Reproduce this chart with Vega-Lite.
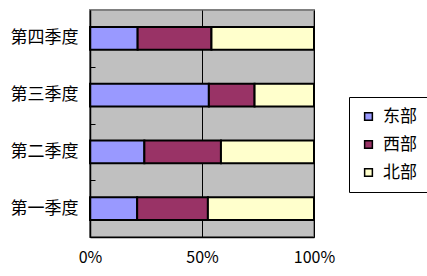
{
  "$schema": "https://vega.github.io/schema/vega-lite/v6.json",
  "width": 224,
  "height": 227,
  "autosize": {"type": "none"},
  "padding": {"left": 90, "top": 10, "right": 113, "bottom": 39},
  "background": "white",
  "config": {
    "view": {"fill": "#C0C0C0", "stroke": "#808080", "strokeWidth": 2},
    "font": "Noto Sans CJK SC"
  },
  "data": {
    "values": [
      {"quarter": "第一季度", "region": "东部", "order": 1, "value": 20.4},
      {"quarter": "第一季度", "region": "西部", "order": 2, "value": 30.6},
      {"quarter": "第一季度", "region": "北部", "order": 3, "value": 45.9},
      {"quarter": "第二季度", "region": "东部", "order": 1, "value": 27.4},
      {"quarter": "第二季度", "region": "西部", "order": 2, "value": 38.6},
      {"quarter": "第二季度", "region": "北部", "order": 3, "value": 46.9},
      {"quarter": "第三季度", "region": "东部", "order": 1, "value": 90},
      {"quarter": "第三季度", "region": "西部", "order": 2, "value": 34.6},
      {"quarter": "第三季度", "region": "北部", "order": 3, "value": 45},
      {"quarter": "第四季度", "region": "东部", "order": 1, "value": 20.4},
      {"quarter": "第四季度", "region": "西部", "order": 2, "value": 31.6},
      {"quarter": "第四季度", "region": "北部", "order": 3, "value": 43.9}
    ]
  },
  "encoding": {
    "y": {
      "field": "quarter",
      "type": "nominal",
      "sort": ["第四季度", "第三季度", "第二季度", "第一季度"],
      "scale": {"paddingInner": 0.6, "paddingOuter": 0.3}
    },
    "x": {
      "field": "value",
      "type": "quantitative",
      "stack": "normalize",
      "scale": {"domain": [0, 1]}
    },
    "color": {
      "field": "region",
      "type": "nominal",
      "sort": ["东部", "西部", "北部"],
      "scale": {"domain": ["东部", "西部", "北部"], "range": ["#9999FF", "#993366", "#FFFFCC"]},
      "legend": {
        "title": null,
        "orient": "none",
        "legendX": 259,
        "legendY": 87,
        "symbolType": "square",
        "symbolSize": 60,
        "symbolStrokeColor": "black",
        "symbolStrokeWidth": 1.5,
        "labelFontSize": 17,
        "labelColor": "black",
        "labelOffset": 6,
        "rowPadding": 10,
        "padding": 11,
        "strokeColor": "black",
        "fillColor": "white"
      }
    },
    "order": {"field": "order", "type": "quantitative"}
  },
  "layer": [
    {
      "mark": {"type": "bar", "stroke": "black", "strokeWidth": 2},
      "encoding": {
        "y": {
          "field": "quarter",
          "type": "nominal",
          "sort": ["第四季度", "第三季度", "第二季度", "第一季度"],
          "axis": {
            "title": null,
            "orient": "left",
            "zindex": 1,
            "labelFontSize": 17,
            "labelColor": "black",
            "labelPadding": 12,
            "ticks": false,
            "domain": true,
            "domainColor": "black",
            "domainWidth": 1.5
          }
        },
        "x": {
          "field": "value",
          "type": "quantitative",
          "stack": "normalize",
          "axis": {
            "title": null,
            "orient": "bottom",
            "zindex": 0,
            "grid": true,
            "gridColor": "black",
            "gridWidth": 1,
            "values": [0, 0.5, 1],
            "labels": false,
            "ticks": false,
            "domain": false
          }
        }
      }
    },
    {
      "mark": {"type": "bar", "opacity": 0},
      "encoding": {
        "y": {
          "field": "quarter",
          "type": "nominal",
          "sort": ["第四季度", "第三季度", "第二季度", "第一季度"],
          "axis": {
            "title": null,
            "orient": "right",
            "offset": -224,
            "zindex": 1,
            "labels": false,
            "domain": false,
            "ticks": true,
            "tickBand": "center",
            "tickOffset": 28.4,
            "tickSize": 5,
            "tickColor": "black",
            "tickWidth": 1
          }
        },
        "x": {
          "field": "value",
          "type": "quantitative",
          "stack": "normalize",
          "axis": {
            "title": null,
            "orient": "bottom",
            "zindex": 1,
            "grid": false,
            "format": "%",
            "values": [0, 0.5, 1],
            "ticks": false,
            "labelFlush": false,
            "labelFontSize": 16,
            "labelColor": "black",
            "labelPadding": 12,
            "domain": true,
            "domainColor": "black",
            "domainWidth": 1.5
          }
        }
      }
    }
  ],
  "resolve": {"axis": {"x": "independent", "y": "independent"}}
}
